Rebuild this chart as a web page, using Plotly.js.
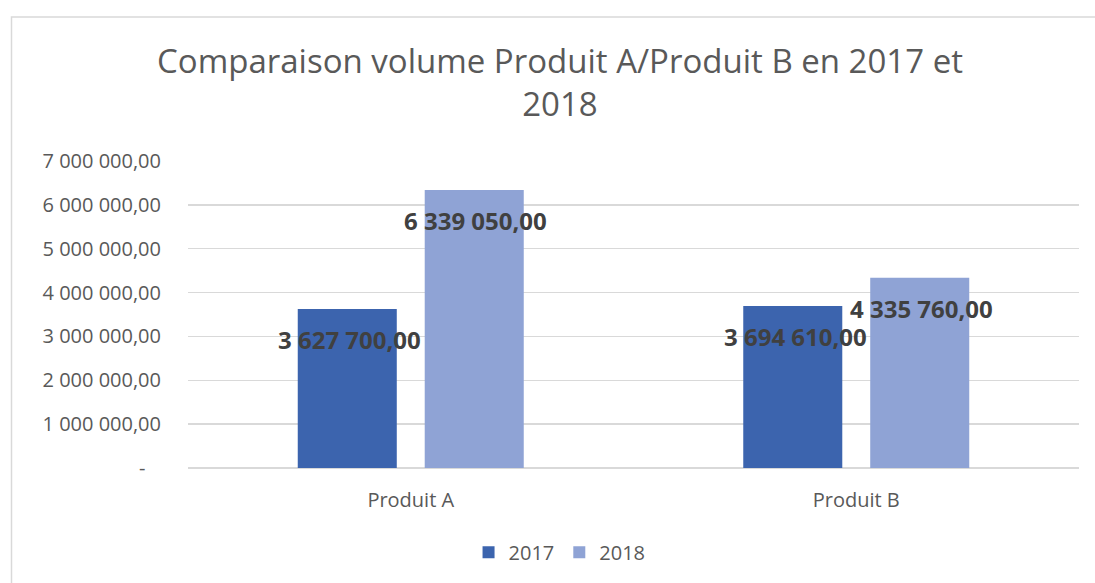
<!DOCTYPE html>
<html>
<head>
<meta charset="utf-8">
<script src="https://cdn.plot.ly/plotly-3.0.1.min.js"></script>
<style>
html,body{margin:0;padding:0;background:#fff;}
#chart{width:1095px;height:583px;}
</style>
</head>
<body>
<div id="chart"></div>
<script>
const categories = ["Produit A", "Produit B"];
const seriesNames = ["2017", "2018"];
const values2017 = [3627700, 3694610];
const values2018 = [6339050, 4335760];
const tickValues = [0, 1000000, 2000000, 3000000, 4000000, 5000000, 6000000, 7000000];

const colors = ["#3C64AE", "#8FA3D5"];
const FONT = "'Open Sans', 'Noto Sans', sans-serif";

function fmt(v) {
  if (v === 0) return "-\u00a0\u00a0\u00a0";
  const parts = v.toFixed(2).split(".");
  const intPart = parts[0].replace(/\B(?=(\d{3})+(?!\d))/g, " ");
  return intPart + "," + parts[1];
}

const traces = [
  {type: "bar", name: seriesNames[0], x: categories, y: values2017,
   marker: {color: colors[0]}, hoverinfo: "skip"},
  {type: "bar", name: seriesNames[1], x: categories, y: values2018,
   marker: {color: colors[1]}, hoverinfo: "skip"}
];

const annotations = [];
[values2017, values2018].forEach((vals, si) => {
  vals.forEach((v, ci) => {
    annotations.push({
      x: categories[ci], y: v, xref: "x", yref: "y",
      text: "<b>" + fmt(v) + "</b>",
      showarrow: false, xanchor: "center", yanchor: "middle",
      xshift: si === 0 ? -61 : 65, yshift: -31,
      font: {family: FONT, size: 24, color: "#404040"}
    });
  });
});

const layout = {
  width: 1095, height: 583,
  margin: {l: 188, r: 16, t: 161, b: 114},
  paper_bgcolor: "#ffffff", plot_bgcolor: "#ffffff",
  font: {family: FONT, color: "#595959"},
  title: {
    text: "Comparaison volume Produit A/Produit B en 2017 et<br>2018",
    font: {family: FONT, size: 33, color: "#595959"},
    x: 560 / 1095, xanchor: "center", xref: "container",
    y: 1 - 73 / 583, yanchor: "top", yref: "container"
  },
  barmode: "group",
  bargap: 0.43,
  bargroupgap: 0.22,
  showlegend: true,
  legend: {
    orientation: "h", x: 0.417, xanchor: "center", xref: "paper",
    y: -0.27, yanchor: "middle",
    font: {family: FONT, size: 20, color: "#595959"},
    traceorder: "normal", itemwidth: 30
  },
  xaxis: {
    type: "category",
    showgrid: false, zeroline: false, showline: false,
    ticks: "", ticklabelstandoff: 18,
    tickfont: {family: FONT, size: 20, color: "#595959"},
    fixedrange: true
  },
  yaxis: {
    range: [0, 7000000],
    tickmode: "array", tickvals: tickValues, ticktext: tickValues.map(fmt),
    showgrid: true, gridcolor: "#d9d9d9", gridwidth: 1.5,
    zeroline: true, zerolinecolor: "#d9d9d9", zerolinewidth: 1.5,
    showline: false, ticks: "", ticklabelstandoff: 26,
    tickfont: {family: FONT, size: 20, color: "#595959"},
    fixedrange: true
  },
  annotations: annotations,
  shapes: [{
    type: "path", xref: "paper", yref: "paper",
    path: "M " + ((11.5 - 188) / 891) + "," + ((469 - 600) / 308) +
          " L " + ((11.5 - 188) / 891) + "," + ((469 - 16.5) / 308) +
          " L " + ((1200 - 188) / 891) + "," + ((469 - 16.5) / 308),
    line: {color: "#d9d9d9", width: 1.5}
  }]
};

Plotly.newPlot("chart", traces, layout, {displayModeBar: false, staticPlot: true});
</script>
</body>
</html>
